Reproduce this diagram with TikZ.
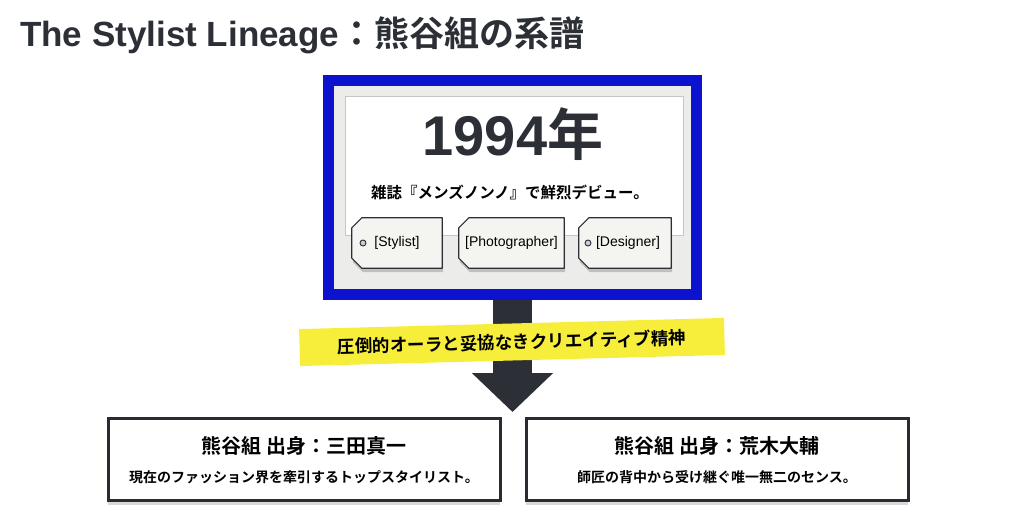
\documentclass[tikz,border=0pt]{standalone}
\usepackage{fontspec}
\setmainfont{Liberation Sans}
\newfontfamily\jp{Noto Sans CJK JP}[BoldFont={Noto Sans CJK JP Bold}]
\usetikzlibrary{shadows,arrows.meta}
\definecolor{frameblue}{RGB}{12,18,205}
\definecolor{inkgray}{RGB}{44,48,54}
\definecolor{markyellow}{RGB}{247,238,60}
\definecolor{tagfill}{RGB}{244,244,241}
\definecolor{panelgray}{RGB}{236,236,234}
\tikzset{
  tagbox/.style={minimum height=50pt, inner sep=0pt, font=\fontsize{14}{16}\selectfont},
  tagline/.style={draw=inkgray, line width=1.2pt, fill=tagfill, line join=round,
    drop shadow={opacity=0.4, shadow xshift=1pt, shadow yshift=-4pt}},
  hole/.style={circle, draw=inkgray, line width=0.9pt, fill=gray!40, minimum size=6pt, inner sep=0pt},
  lineagebox/.style={draw=inkgray!90!black, line width=3pt, fill=white, minimum height=82pt,
    drop shadow={opacity=0.3, shadow xshift=0pt, shadow yshift=-5pt}},
  boxhead/.style={font=\jp\bfseries\fontsize{20}{22}\selectfont},
  boxtext/.style={font=\jp\bfseries\fontsize{14}{16}\selectfont}
}
\begin{document}
\begin{tikzpicture}[x=1pt,y=-1pt]
	\useasboundingbox[fill=white] (0,0) rectangle (1024,528);

	\node[anchor=base west, inner sep=0pt, text=inkgray] (title) at (20,46)
		{\fontsize{35}{40}\selectfont\bfseries The Stylist Lineage{\jp：熊谷組の系譜}};

	% arrow behind the frame
	\coordinate (tip) at (512.5,412);
	\draw[inkgray, line width=39pt, -{Triangle[width=79pt,length=39pt]}] (512.5,290) -- (tip);

	\node[draw=frameblue, line width=11pt, fill=panelgray, minimum width=368pt, minimum height=214pt,
		drop shadow={opacity=0.25, shadow xshift=0pt, shadow yshift=-3pt}] (frame) at (512.5,187.5) {};
	\node[draw=gray!45, line width=1pt, fill=white, minimum width=338pt, minimum height=139pt] (card) at (514,165.5) {};

	\node[anchor=base, inner sep=0pt, text=inkgray] (year) at (513,155)
		{\fontsize{56}{60}\selectfont\bfseries 1994{\jp 年}};
	\node[font=\jp\bfseries\fontsize{15.5}{18}\selectfont] (debut) at (510,192) {雑誌『メンズノンノ』で鮮烈デビュー。};

	\node[tagbox, minimum width=90pt] (stylist) at (397,243) {};
	\node[tagbox, minimum width=105pt] (photo) at (511.5,243) {};
	\node[tagbox, minimum width=92pt] (designer) at (625,243) {};
	\foreach \t in {stylist,photo,designer}
		\draw[tagline] ([xshift=10pt]\t.north west) -- (\t.north east) -- (\t.south east)
			-- ([xshift=10pt]\t.south west) -- ([yshift=10pt]\t.south west)
			-- ([yshift=-10pt]\t.north west) -- cycle;
	\node[tagbox] at (stylist) {[Stylist]};
	\node[tagbox] at (photo) {[Photographer]};
	\node[tagbox] at ([xshift=3pt]designer.center) {[Designer]};
	\node[hole] (hole1) at (363,243) {};
	\node[hole] (hole2) at (588,243) {};

	\node[fill=markyellow, rotate=1.5, minimum width=425pt, minimum height=37pt,
		font=\jp\bfseries\fontsize{17.5}{20}\selectfont] (spirit) at (512,342) {圧倒的オーラと妥協なきクリエイティブ精神};

	\node[lineagebox, minimum width=392pt] (mita) at (304,459) {};
	\node[boxhead] (mitahead) at (304,446) {熊谷組 出身：三田真一};
	\node[boxtext] (mitatext) at (304,477) {現在のファッション界を牽引するトップスタイリスト。};

	\node[lineagebox, minimum width=382pt] (araki) at (717,459) {};
	\node[boxhead] (arakihead) at (717,446) {熊谷組 出身：荒木大輔};
	\node[boxtext] (arakitext) at (717,477) {師匠の背中から受け継ぐ唯一無二のセンス。};
\end{tikzpicture}
\end{document}
